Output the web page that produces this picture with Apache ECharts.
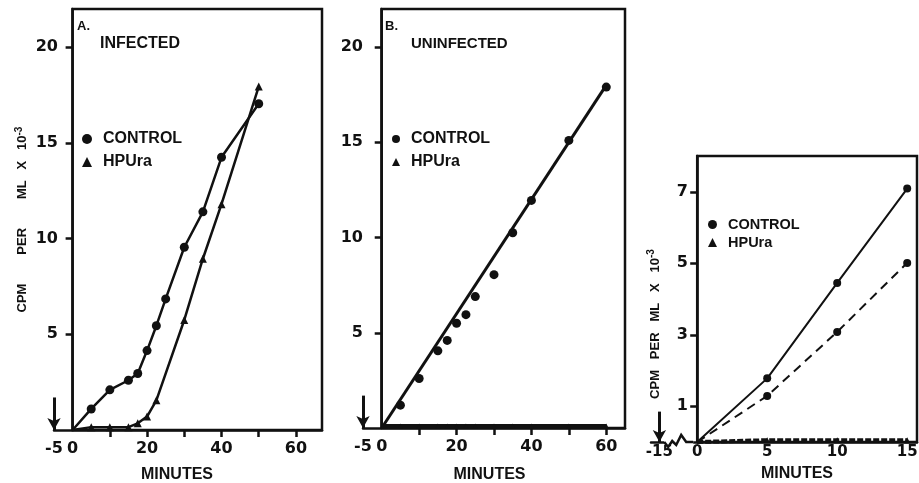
<!DOCTYPE html>
<html>
<head>
<meta charset="utf-8">
<title>CPM per ml, infected / uninfected</title>
<script src="https://cdn.jsdelivr.net/npm/echarts@6/dist/echarts.min.js"></script>
<style>
    html, body { margin: 0; padding: 0; background: #fff; }
    #chart { width: 919px; height: 483px; }
</style>
</head>
<body>
<div id="chart"></div>
<script>
// values: [minutes, CPM per ml x 10^-3]
// panel A, infected
const infControl = [[0, 0], [5, 1.1], [10, 2.1], [15, 2.6], [17.5, 2.95], [20, 4.15], [22.5, 5.45],
    [25, 6.85], [30, 9.55], [35, 11.4], [40, 14.25], [50, 17.05]];
const infHPUra = [[0, 0], [5, 0.15], [10, 0.15], [15, 0.15], [17.5, 0.35], [20, 0.7], [22.5, 1.55],
    [30, 5.75], [35, 8.95], [40, 11.8], [50, 17.95]];

// panel B, uninfected
const uninfControl = [[5, 1.2], [10, 2.6], [15, 4.05], [17.5, 4.6], [20, 5.5], [22.5, 5.95], [25, 6.9],
    [30, 8.05], [35, 10.25], [40, 11.95], [50, 15.1], [60, 17.9]];
const uninfFit = [[0, 0], [60, 18]];
const uninfHPUra = [[0, 0.1], [5, 0.1], [10, 0.1], [15, 0.1], [17.5, 0.1], [20, 0.1], [22.5, 0.1],
    [25, 0.1], [30, 0.1], [35, 0.1], [40, 0.1], [50, 0.1], [60, 0.1]];

// panel C (broken time axis)
const cControl = [[0, 0], [5, 1.78], [10, 4.45], [15, 7.09]];
const cControlDashed = [[0, 0], [5, 1.29], [10, 3.08], [15, 5.01]];
const cHPUra = [[0, 0], [5, 0.05], [10, 0.05], [15, 0.05]];

// tick labels
const abXLabels = [-5, 0, 20, 40, 60];
const abXTicks = [10, 20, 30, 40, 50, 60];
const abYLabels = [5, 10, 15, 20];
const cXLabelPos = [-2.7, 0, 5, 10, 15];     // -2.7 sits left of the axis break
const cXLabelText = ['-15', '0', '5', '10', '15'];
const cYLabels = [1, 3, 5, 7];

// addition time arrows (x on the axis, arrow height in y units)
const abArrow = { x: -5, h: 1.7 };
const cArrow = { x: -2.7, h: 0.85 };

const TEXT = 'Liberation Sans';
const NUM = 'DejaVu Sans';
const INK = '#111';

// the first point of a curve is only the line start, no marker
const from0 = arr => arr.map(p => (p[0] === 0 ? { value: p, symbol: 'none' } : p));

// y labels and name stay at the grid's left edge even with onZero, so margins count from there
const yName = (gap, pad, size) => ({
    nameLocation: 'middle',
    nameRotate: 90,
    nameGap: gap,
    nameTextStyle: {
        fontFamily: TEXT, fontWeight: 'bold', fontSize: size, color: INK,
        lineHeight: 18, padding: pad,
        rich: { sup: { fontFamily: TEXT, fontWeight: 'bold', fontSize: size - 3, color: INK, verticalAlign: 'top', lineHeight: 18 } }
    }
});

function xAxis(gi, min, max, labels, ticks, fmt, fontSize, margin, gap, pad) {
    return {
        type: 'value', gridIndex: gi, min: min, max: max,
        name: 'MINUTES', nameLocation: 'middle', nameGap: gap,
        nameTextStyle: { fontFamily: TEXT, fontWeight: 'bold', fontSize: 16, color: INK, padding: pad },
        axisLine: { show: true, onZero: false, lineStyle: { color: INK, width: 2.5 } },
        axisTick: ticks ? { show: true, customValues: ticks, length: 7, lineStyle: { color: INK, width: 2.5 } } : { show: false },
        axisLabel: { customValues: labels, formatter: fmt, margin: margin, fontFamily: NUM, fontWeight: 'bold', fontSize: fontSize, color: INK },
        splitLine: { show: false }
    };
}

function yAxis(gi, max, labels, margin, fontSize) {
    return {
        type: 'value', gridIndex: gi, min: 0, max: max,
        axisLine: { show: true, onZero: true, lineStyle: { color: INK, width: 2.5 } },
        axisTick: { show: true, customValues: labels, length: 7, lineStyle: { color: INK, width: 2.5 } },
        axisLabel: { customValues: labels, margin: margin, fontFamily: NUM, fontWeight: 'bold', fontSize: fontSize, color: INK },
        splitLine: { show: false }
    };
}

// frame of a panel and the arrow at time of addition, hung on one series
function frame(xMax, yMax, arrow) {
    return {
        markArea: {
            silent: true,
            label: { show: false },
            itemStyle: { color: 'rgba(0,0,0,0)', borderColor: INK, borderWidth: 2.5 },
            data: [[{ coord: [0, 0] }, { coord: [xMax, yMax] }]]
        },
        markLine: {
            silent: true,
            symbol: ['none', 'arrow'],
            symbolSize: [10, 12],
            label: { show: false },
            lineStyle: { color: INK, width: 3, type: 'solid' },
            data: [[{ coord: [arrow.x, arrow.h] }, { coord: [arrow.x, 0] }]]
        }
    };
}

const legendText = size => ({ fontFamily: TEXT, fontWeight: 'bold', fontSize: size, color: INK, padding: [0, 0, 0, 6], lineHeight: size });
const legendData = [{ name: 'CONTROL', icon: 'circle' }, { name: 'HPUra', icon: 'triangle' }];

const chart = echarts.init(document.getElementById('chart'));

chart.setOption({
    animation: false,
    backgroundColor: '#fff',
    title: [
        { text: 'A.', left: 77, top: 20, padding: 0, textStyle: { fontFamily: TEXT, fontWeight: 'bold', fontSize: 13, color: INK } },
        { text: 'INFECTED', left: 100, top: 36, padding: 0, textStyle: { fontFamily: TEXT, fontWeight: 'bold', fontSize: 16, color: INK } },
        { text: 'B.', left: 385, top: 20, padding: 0, textStyle: { fontFamily: TEXT, fontWeight: 'bold', fontSize: 13, color: INK } },
        { text: 'UNINFECTED', left: 411, top: 36, padding: 0, textStyle: { fontFamily: TEXT, fontWeight: 'bold', fontSize: 15, color: INK } }
    ],
    legend: [
        { left: 82, top: 131, orient: 'vertical', itemWidth: 10, itemHeight: 10, itemGap: 7, selectedMode: false, padding: 0,
            textStyle: legendText(16), data: legendData },
        { left: 392, top: 131, orient: 'vertical', itemWidth: 8, itemHeight: 8, itemGap: 7, selectedMode: false, padding: 0,
            textStyle: legendText(16), data: legendData },
        { left: 708, top: 217, orient: 'vertical', itemWidth: 9, itemHeight: 9, itemGap: 3, selectedMode: false, padding: 0,
            textStyle: legendText(14.5), data: legendData }
    ],
    grid: [
        { left: 54, top: 9, width: 268, height: 421, outerBoundsMode: 'none' },
        { left: 363, top: 9, width: 262, height: 419, outerBoundsMode: 'none' },
        { left: 651, top: 156, width: 266, height: 286, outerBoundsMode: 'none' }
    ],
    xAxis: [
        xAxis(0, -5, 67, abXLabels, abXTicks, null, 16, 11, 37, [0, 22, 0, 0]),
        xAxis(1, -5, 65, abXLabels, abXTicks, null, 16, 11, 39, [0, 9, 0, 0]),
        xAxis(2, -3.3, 15.7, cXLabelPos, null, v => cXLabelText[cXLabelPos.indexOf(v)] || '', 15, 3, 24, [0, 0, 0, 26])
    ],
    yAxis: [
        Object.assign(yAxis(0, 22, abYLabels, -4, 16), { name: 'CPM        PER        ML   X   10{sup|-3}' }, yName(10, 0, 13)),
        yAxis(1, 22, abYLabels, 0, 16),
        Object.assign(yAxis(2, 8, cYLabels, -37, 16), { name: 'CPM   PER   ML   X   10{sup|-3}' }, yName(-13, [0, 50, 0, 0], 13))
    ],
    series: [
        // A
        { name: 'CONTROL', type: 'line', xAxisIndex: 0, yAxisIndex: 0, data: from0(infControl),
            symbol: 'circle', symbolSize: 9, lineStyle: { color: INK, width: 2.5 }, itemStyle: { color: INK } },
        Object.assign({ name: 'HPUra', type: 'line', xAxisIndex: 0, yAxisIndex: 0, data: from0(infHPUra), clip: false,
            symbol: 'triangle', symbolSize: 8, lineStyle: { color: INK, width: 2.5 }, itemStyle: { color: INK } },
            frame(67, 22, abArrow)),
        // B
        { name: 'fit', type: 'line', xAxisIndex: 1, yAxisIndex: 1, data: uninfFit,
            symbol: 'none', lineStyle: { color: INK, width: 3 } },
        { name: 'CONTROL', type: 'scatter', xAxisIndex: 1, yAxisIndex: 1, data: uninfControl,
            symbol: 'circle', symbolSize: 9, itemStyle: { color: INK, opacity: 1 } },
        Object.assign({ name: 'HPUra', type: 'line', xAxisIndex: 1, yAxisIndex: 1, data: from0(uninfHPUra), clip: false,
            symbol: 'triangle', symbolSize: 5, lineStyle: { color: INK, width: 4 }, itemStyle: { color: INK } },
            frame(65, 22, abArrow)),
        // C
        { name: 'CONTROL', type: 'line', xAxisIndex: 2, yAxisIndex: 2, data: from0(cControl),
            symbol: 'circle', symbolSize: 8, lineStyle: { color: INK, width: 2 }, itemStyle: { color: INK } },
        { name: 'CONTROL', type: 'line', xAxisIndex: 2, yAxisIndex: 2, data: from0(cControlDashed),
            symbol: 'circle', symbolSize: 8, lineStyle: { color: INK, width: 2, type: [9, 6] }, itemStyle: { color: INK } },
        Object.assign({ name: 'HPUra', type: 'line', xAxisIndex: 2, yAxisIndex: 2, data: from0(cHPUra), clip: false,
            symbol: 'triangle', symbolSize: 6, lineStyle: { color: INK, width: 4, type: [6, 2] }, itemStyle: { color: INK } },
            frame(15.7, 8, cArrow))
    ]
});

// axis-break squiggle between -15 and 0 on panel C
const o = chart.convertToPixel({ xAxisIndex: 2, yAxisIndex: 2 }, [0, 0]);
const zig = [[-33, 0], [-29, 5], [-25, -1], [-21, 3], [-16, -7], [-11, 0], [-4, 0]];
chart.setOption({
    graphic: [
        { type: 'rect', z: 100, shape: { x: o[0] - 33, y: o[1] - 3, width: 29, height: 6 }, style: { fill: '#fff' } },
        { type: 'polyline', z: 101, shape: { points: zig.map(p => [o[0] + p[0], o[1] + p[1]]) },
            style: { stroke: INK, lineWidth: 2.5, fill: null } }
    ]
});
</script>
</body>
</html>
